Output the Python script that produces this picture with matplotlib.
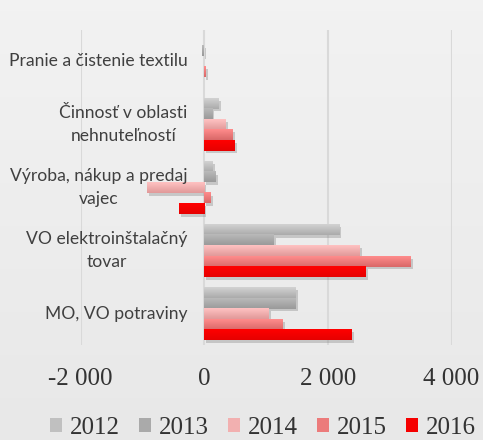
import matplotlib
matplotlib.use("Agg")
import matplotlib.pyplot as plt
import matplotlib.patheffects as pe
from matplotlib.patches import Patch
from matplotlib.colors import to_rgb
import numpy as np

categories = ["Pranie a čistenie textilu",
              "Činnosť v oblasti\nnehnuteľností",
              "Výroba, nákup a predaj\nvajec",
              "VO elektroinštalačný\ntovar",
              "MO, VO potraviny"]
years = ["2012", "2013", "2014", "2015", "2016"]
values = {
    "2012": [0, 240, 140, 2185, 1475],
    "2013": [-30, 130, 190, 1125, 1475],
    "2014": [0, 350, -935, 2520, 1040],
    "2015": [25, 465, 105, 3345, 1275],
    "2016": [0, 500, -410, 2620, 2380],
}
xticks = [-2000, 0, 2000, 4000]
xticklabels = ["-2 000", "0", "2 000", "4 000"]

# gradient colours (top, bottom) per year
top_colors = ["#d2d2d2", "#bababa", "#ffc2c2", "#ff8c8c", "#ff0000"]
bot_colors = ["#ababab", "#9a9a9a", "#e19999", "#d96868", "#e60000"]
colors = ["#c0c0c0", "#aaaaaa", "#f2b0b0", "#ec7b7b", "#f50000"]

fig = plt.figure(figsize=(4.83, 4.4), dpi=100)

# background gradient
bg = fig.add_axes([0, 0, 1, 1], zorder=-10)
grad = np.linspace(0.95, 0.91, 256).reshape(-1, 1)
bg.imshow(np.dstack([grad, grad, grad]), aspect="auto", extent=[0, 1, 0, 1])
bg.axis("off")

ax = fig.add_axes([0.167, 0.2148, 0.768, 0.718])
ax.patch.set_alpha(0)

h = 1 / 6
y = np.arange(len(categories))
shadow = [pe.SimplePatchShadow(offset=(1.5, -2), shadow_rgbFace="#808080", alpha=0.35), pe.Normal()]
for i, yr in enumerate(years):
    bars = ax.barh(y + (i - 2) * h, values[yr], height=h, color=colors[i], zorder=3)
    t = np.array(to_rgb(top_colors[i]))
    b_ = np.array(to_rgb(bot_colors[i]))
    g = np.linspace(0, 1, 32).reshape(-1, 1, 1)
    img = t * (1 - g) + b_ * g
    for b in bars:
        b.set_path_effects(shadow)
        if b.get_width() == 0:
            continue
        x0, x1 = sorted([b.get_x(), b.get_x() + b.get_width()])
        y0, y1 = b.get_y(), b.get_y() + b.get_height()
        ax.imshow(img, extent=[x0, x1, y1, y0], aspect="auto", zorder=3.5, interpolation="bilinear")

ax.set_xlim(-2000, 4000)
ax.set_ylim(len(categories) - 0.5, -0.5)
ax.set_xticks(xticks)
ax.set_xticklabels(xticklabels, fontfamily="Liberation Serif", fontsize=18, color="#333333")
ax.set_yticks([])
for yi, cat in zip(y, categories):
    ax.annotate(cat, (0, yi), xytext=(-12, 0), textcoords="offset points", ha="right", va="center",
                multialignment="center", fontfamily="Lato", fontsize=12.6, color="#404040",
                linespacing=1.5, zorder=10)
ax.tick_params(axis="both", length=0)
ax.tick_params(axis="x", pad=16)
for s in ax.spines.values():
    s.set_visible(False)
ax.grid(axis="x", color="#d9d9d9", linewidth=1.5, zorder=0)
ax.set_axisbelow(True)

handles = [Patch(facecolor=c, edgecolor="none") for c in colors]
fig.legend(handles, years, loc="center", bbox_to_anchor=(0.545, 0.027), ncol=5, frameon=False,
           prop={"family": "Liberation Serif", "size": 18}, labelcolor="#333333",
           handlelength=0.48, handleheight=0.48, handletextpad=0.32, columnspacing=0.76)

fig.savefig("out.png", dpi=100, facecolor=fig.get_facecolor())
